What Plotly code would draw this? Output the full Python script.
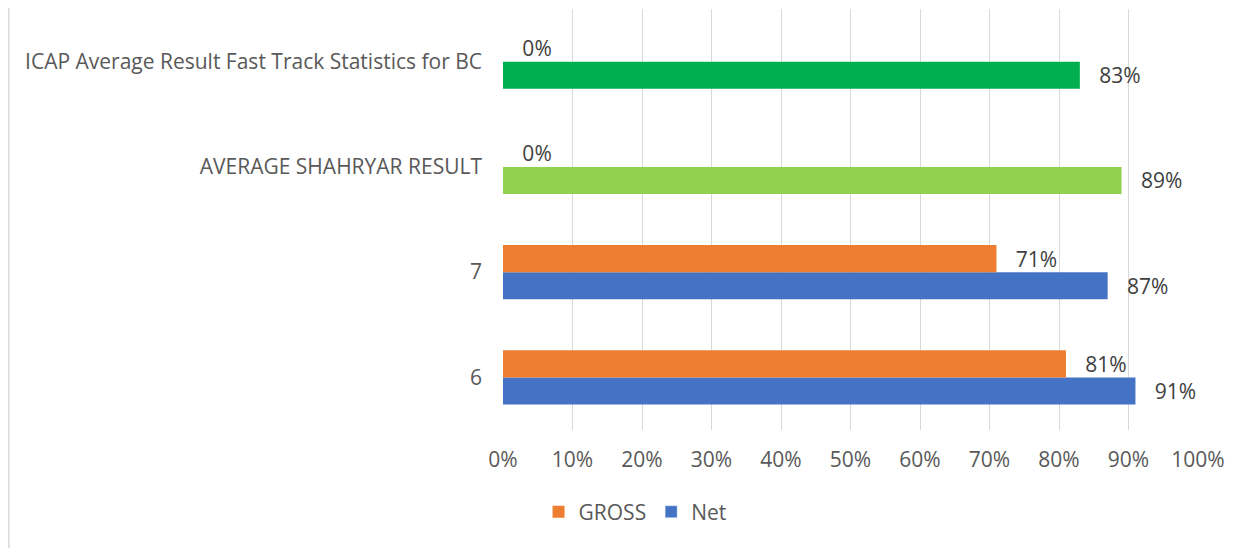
import plotly.graph_objects as go

categories = ["6", "7", "AVERAGE SHAHRYAR RESULT", "ICAP Average Result Fast Track Statistics for BC"]
gross = [0.81, 0.71, 0.0, 0.0]
net = [0.91, 0.87, 0.89, 0.83]
net_colors = ["#4472C4", "#4472C4", "#92D050", "#00B050"]
x_ticks = [i / 10 for i in range(11)]

font_family = "Open Sans, Liberation Sans, sans-serif"
grey = "#595959"
pad = "\u00a0\u00a0\u00a0"  # gap between bar end and its label

fig = go.Figure()
fig.add_trace(go.Bar(
    y=categories, x=net, name="Net", orientation="h", offsetgroup="net",
    marker=dict(color=net_colors, line_width=0),
    texttemplate=pad + "%{x:.0%}", textposition="outside", constraintext="none",
    textfont=dict(size=21, color="#404040"), cliponaxis=False,
    showlegend=False,
))
# legend entry for Net in the series' own blue
fig.add_trace(go.Bar(
    y=[None], x=[None], name="Net", orientation="h", offsetgroup="net",
    marker=dict(color="#4472C4"), showlegend=True,
))
fig.add_trace(go.Bar(
    y=categories, x=gross, name="GROSS", orientation="h", offsetgroup="gross",
    marker=dict(color="#ED7D31", line_width=0),
    texttemplate=pad + "%{x:.0%}", textposition="outside", constraintext="none",
    textfont=dict(size=21, color="#404040"), cliponaxis=False,
))

# page body has an 8px margin, so the figure is 8px smaller and shifted
fig.update_layout(
    width=1245, height=540,
    barmode="group", bargap=0.486, bargroupgap=0,
    plot_bgcolor="white", paper_bgcolor="white",
    margin=dict(l=495, r=55, t=1, b=118, autoexpand=False),
    font=dict(family=font_family, size=21, color=grey),
    legend=dict(
        orientation="h", x=0.19, xanchor="center", y=-0.195, yanchor="middle",
        traceorder="reversed", font=dict(size=21, color=grey),
        itemwidth=30,
    ),
    xaxis=dict(
        range=[0, 1], tickvals=x_ticks, tickformat=".0%", automargin=False,
        showgrid=True, gridcolor="#D9D9D9", gridwidth=1,
        zeroline=False, showline=False, ticklabelstandoff=15,
    ),
    yaxis=dict(
        showgrid=False, zeroline=False, showline=False, automargin=False,
        ticklabelstandoff=20, tickfont=dict(size=21),
    ),
    shapes=[dict(
        type="line", xref="paper", yref="paper",
        x0=-0.711, x1=-0.711, y0=-0.3, y1=1.01,
        line=dict(color="#D9D9D9", width=1.5),
    )],
)

fig.write_html("out.html")
